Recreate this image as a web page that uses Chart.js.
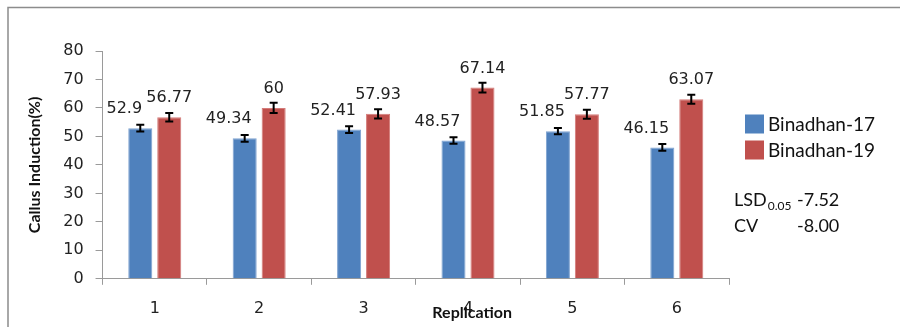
<!DOCTYPE html>
<html><head><meta charset="utf-8">
<script src="https://cdn.jsdelivr.net/npm/chart.js@4.4.0/dist/chart.umd.min.js"></script>
<style>html,body{margin:0;padding:0;background:#fff}#wrap{width:900px;height:327px}</style>
</head><body><div id="wrap"><canvas id="c" width="900" height="327"></canvas></div>
<script>
const categories = ['1','2','3','4','5','6'];
const seriesNames = ['Binadhan-17','Binadhan-19'];
const binadhan17 = [52.9, 49.34, 52.41, 48.57, 51.85, 46.15];
const binadhan19 = [56.77, 60, 57.93, 67.14, 57.77, 63.07];
const err17 = [1.2, 1.2, 1.2, 1.1, 1.1, 1.2];
const err19 = [1.5, 1.8, 1.6, 1.7, 1.6, 1.6];
const yTicks = [0, 10, 20, 30, 40, 50, 60, 70, 80];
const statsLabels = ['LSD', 'CV'];
const statsSubs = ['0.05', ''];
const statsValues = ['-7.52', '-8.00'];
const xTitle = 'Replication';
const yTitle = 'Callus Induction(%)';

const colors = ['#4F81BD', '#C0504D'];
const borders = ['#7FA3D1', '#D47B79'];
const errors = [err17, err19];
const labelDx = [-16, 0];

const framePlugin = {
  id: 'frame',
  beforeDraw(chart) {
    const ctx = chart.ctx;
    ctx.save();
    ctx.fillStyle = '#fff';
    ctx.fillRect(0, 0, chart.width, chart.height);
    ctx.strokeStyle = '#8c8c8c';
    ctx.lineWidth = 1.5;
    ctx.strokeRect(8, 7.5, 1000, 1000);
    ctx.restore();
  }
};

const barExtras = {
  id: 'barExtras',
  afterDatasetsDraw(chart) {
    const ctx = chart.ctx;
    const y = chart.scales.y;
    ctx.save();
    chart.data.datasets.forEach((ds, di) => {
      const meta = chart.getDatasetMeta(di);
      meta.data.forEach((bar, i) => {
        const v = ds.data[i];
        const e = errors[di][i];
        const yt = y.getPixelForValue(v + e);
        const yb = y.getPixelForValue(v - e);
        ctx.strokeStyle = '#000';
        ctx.lineWidth = 2;
        ctx.beginPath();
        ctx.moveTo(bar.x, yt); ctx.lineTo(bar.x, yb);
        ctx.moveTo(bar.x - 4, yt); ctx.lineTo(bar.x + 4, yt);
        ctx.moveTo(bar.x - 4, yb); ctx.lineTo(bar.x + 4, yb);
        ctx.stroke();
        ctx.fillStyle = '#222';
        ctx.font = '16px "DejaVu Sans"';
        ctx.textAlign = 'center';
        ctx.textBaseline = 'middle';
        ctx.fillText(String(v), bar.x + labelDx[di], bar.y - 19);
      });
    });
    ctx.restore();
  }
};

const sideText = {
  id: 'sideText',
  afterDraw(chart) {
    const ctx = chart.ctx;
    const a = chart.chartArea;
    ctx.save();
    const lx = a.right + 16;
    chart.data.datasets.forEach((ds, i) => {
      const cy = 124 + i * 26;
      ctx.fillStyle = ds.backgroundColor;
      ctx.fillRect(lx, cy - 9.5, 19, 19);
      ctx.fillStyle = '#111';
      ctx.font = '19px Lato';
      ctx.textAlign = 'left';
      ctx.textBaseline = 'middle';
      ctx.fillText(ds.label, lx + 23, cy + 1);
    });
    statsLabels.forEach((lab, i) => {
      const cy = 200 + i * 26;
      ctx.fillStyle = '#111';
      ctx.textBaseline = 'middle';
      ctx.textAlign = 'left';
      ctx.font = '18px Lato';
      ctx.fillText(lab, a.right + 5, cy);
      const w = ctx.measureText(lab).width;
      if (statsSubs[i]) {
        ctx.font = '12px Lato';
        ctx.fillText(statsSubs[i], a.right + 5 + w + 1, cy + 6);
      }
      ctx.font = '18px Lato';
      ctx.fillText(statsValues[i], a.right + 68, cy);
    });
    ctx.font = 'bold 16px Lato';
    ctx.textAlign = 'center';
    ctx.textBaseline = 'middle';
    ctx.fillStyle = '#111';
    ctx.fillText(xTitle, a.left + (a.right - a.left) * 0.59, 313);
    ctx.restore();
  }
};

new Chart(document.getElementById('c'), {
  type: 'bar',
  data: {
    labels: categories,
    datasets: [
      { label: seriesNames[0], data: binadhan17, backgroundColor: colors[0], borderColor: borders[0], borderWidth: 1 },
      { label: seriesNames[1], data: binadhan19, backgroundColor: colors[1], borderColor: borders[1], borderWidth: 1 }
    ]
  },
  options: {
    responsive: false,
    animation: false,
    devicePixelRatio: 1,
    categoryPercentage: 0.555,
    barPercentage: 0.83,
    layout: { padding: { left: 25, right: 171, top: 51, bottom: -5 } },
    plugins: { legend: { display: false }, tooltip: { enabled: false } },
    scales: {
      x: {
        grid: { offset: true, drawOnChartArea: false, tickLength: 6, color: '#9a9a9a' },
        border: { color: '#9a9a9a' },
        ticks: { color: '#222', font: { family: 'DejaVu Sans', size: 16 }, padding: 14 }
      },
      y: {
        min: 0, max: 80,
        afterBuildTicks(scale) { scale.ticks = yTicks.map(v => ({ value: v })); },
        grid: { drawOnChartArea: false, tickLength: 7, color: '#9a9a9a' },
        border: { color: '#9a9a9a' },
        ticks: { color: '#222', font: { family: 'DejaVu Sans', size: 16 }, padding: 12 },
        title: { display: true, text: yTitle, color: '#111', font: { family: 'Lato', size: 16, weight: 'bold' }, padding: { top: 0, bottom: 7 } }
      }
    }
  },
  plugins: [framePlugin, barExtras, sideText]
});
</script></body></html>
